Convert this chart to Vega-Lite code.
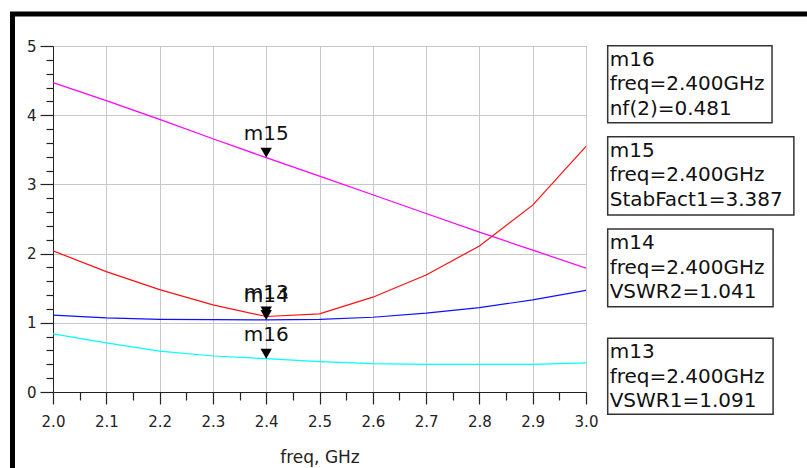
{
  "$schema": "https://vega.github.io/schema/vega-lite/v6.json",
  "width": 533,
  "height": 346,
  "autosize": {"type": "none"},
  "padding": {"left": 53, "top": 46, "right": 221, "bottom": 76},
  "background": "white",
  "config": {
    "view": {"stroke": "#404040", "strokeWidth": 1},
    "font": "DejaVu Sans"
  },
  "datasets": {
    "curves": [
      {"freq": 2.0, "value": 4.47, "series": "StabFact1"},
      {"freq": 2.1, "value": 4.21, "series": "StabFact1"},
      {"freq": 2.2, "value": 3.94, "series": "StabFact1"},
      {"freq": 2.3, "value": 3.66, "series": "StabFact1"},
      {"freq": 2.4, "value": 3.387, "series": "StabFact1"},
      {"freq": 2.5, "value": 3.12, "series": "StabFact1"},
      {"freq": 2.6, "value": 2.85, "series": "StabFact1"},
      {"freq": 2.7, "value": 2.58, "series": "StabFact1"},
      {"freq": 2.8, "value": 2.31, "series": "StabFact1"},
      {"freq": 2.9, "value": 2.05, "series": "StabFact1"},
      {"freq": 3.0, "value": 1.79, "series": "StabFact1"},
      {"freq": 2.0, "value": 2.04, "series": "VSWR1"},
      {"freq": 2.1, "value": 1.74, "series": "VSWR1"},
      {"freq": 2.2, "value": 1.48, "series": "VSWR1"},
      {"freq": 2.3, "value": 1.26, "series": "VSWR1"},
      {"freq": 2.4, "value": 1.091, "series": "VSWR1"},
      {"freq": 2.5, "value": 1.13, "series": "VSWR1"},
      {"freq": 2.6, "value": 1.37, "series": "VSWR1"},
      {"freq": 2.7, "value": 1.69, "series": "VSWR1"},
      {"freq": 2.8, "value": 2.11, "series": "VSWR1"},
      {"freq": 2.9, "value": 2.70, "series": "VSWR1"},
      {"freq": 3.0, "value": 3.55, "series": "VSWR1"},
      {"freq": 2.0, "value": 1.11, "series": "VSWR2"},
      {"freq": 2.1, "value": 1.07, "series": "VSWR2"},
      {"freq": 2.2, "value": 1.05, "series": "VSWR2"},
      {"freq": 2.3, "value": 1.045, "series": "VSWR2"},
      {"freq": 2.4, "value": 1.041, "series": "VSWR2"},
      {"freq": 2.5, "value": 1.05, "series": "VSWR2"},
      {"freq": 2.6, "value": 1.08, "series": "VSWR2"},
      {"freq": 2.7, "value": 1.14, "series": "VSWR2"},
      {"freq": 2.8, "value": 1.22, "series": "VSWR2"},
      {"freq": 2.9, "value": 1.33, "series": "VSWR2"},
      {"freq": 3.0, "value": 1.47, "series": "VSWR2"},
      {"freq": 2.0, "value": 0.84, "series": "nf(2)"},
      {"freq": 2.1, "value": 0.71, "series": "nf(2)"},
      {"freq": 2.2, "value": 0.59, "series": "nf(2)"},
      {"freq": 2.3, "value": 0.52, "series": "nf(2)"},
      {"freq": 2.4, "value": 0.481, "series": "nf(2)"},
      {"freq": 2.5, "value": 0.44, "series": "nf(2)"},
      {"freq": 2.6, "value": 0.41, "series": "nf(2)"},
      {"freq": 2.7, "value": 0.40, "series": "nf(2)"},
      {"freq": 2.8, "value": 0.40, "series": "nf(2)"},
      {"freq": 2.9, "value": 0.40, "series": "nf(2)"},
      {"freq": 3.0, "value": 0.42, "series": "nf(2)"}
    ],
    "markers": [
      {"marker": "m16", "freq": 2.4, "value": 0.481},
      {"marker": "m15", "freq": 2.4, "value": 3.387},
      {"marker": "m14", "freq": 2.4, "value": 1.041},
      {"marker": "m13", "freq": 2.4, "value": 1.091}
    ],
    "boxes": [
      {"marker": "m16", "freq": 3.0407, "freq2": 3.349, "value": 5.004, "value2": 3.892, "lines": ["m16", "freq=2.400GHz", "nf(2)=0.481"]},
      {"marker": "m15", "freq": 3.0407, "freq2": 3.390, "value": 3.689, "value2": 2.558, "lines": ["m15", "freq=2.400GHz", "StabFact1=3.387"]},
      {"marker": "m14", "freq": 3.0407, "freq2": 3.351, "value": 2.355, "value2": 1.233, "lines": ["m14", "freq=2.400GHz", "VSWR2=1.041"]},
      {"marker": "m13", "freq": 3.0407, "freq2": 3.351, "value": 0.776, "value2": -0.322, "lines": ["m13", "freq=2.400GHz", "VSWR1=1.091"]}
    ],
    "frame": [
      {"freq": 1.924, "freq2": 3.6, "value": 5.462, "value2": -2}
    ]
  },
  "layer": [
    {
      "data": {"name": "curves"},
      "mark": {"type": "line", "strokeWidth": 1.2, "clip": true},
      "encoding": {
        "x": {
          "field": "freq", "type": "quantitative",
          "scale": {"domain": [2, 3], "nice": false, "zero": false},
          "axis": {
            "title": "freq, GHz",
            "values": [2, 2.05, 2.1, 2.15, 2.2, 2.25, 2.3, 2.35, 2.4, 2.45, 2.5, 2.55, 2.6, 2.65, 2.7, 2.75, 2.8, 2.85, 2.9, 2.95, 3],
            "tickCount": 100,
            "labelExpr": "abs(datum.value*10 - round(datum.value*10)) < 0.001 ? format(datum.value, '.1f') : ''",
            "tickSize": {"condition": {"test": "abs(datum.value*10 - round(datum.value*10)) < 0.001", "value": 12}, "value": 8},
            "gridOpacity": {"condition": {"test": "abs(datum.value*10 - round(datum.value*10)) < 0.001", "value": 1}, "value": 0},
            "grid": true,
            "gridColor": "#c8c8c8",
            "gridWidth": 1,
            "domainColor": "#222222",
            "tickColor": "#222222",
            "tickWidth": 1.2,
            "labelFont": "DejaVu Sans",
            "labelFontSize": 15,
            "labelColor": "#222222",
            "labelPadding": 10,
            "labelFlush": false,
            "labelOverlap": false,
            "titleFont": "DejaVu Sans",
            "titleFontSize": 17,
            "titleFontWeight": "normal",
            "titleColor": "#222222",
            "titlePadding": 20
          }
        },
        "y": {
          "field": "value", "type": "quantitative",
          "scale": {"domain": [0, 5], "nice": false, "zero": false},
          "axis": {
            "title": null,
            "values": [0, 0.2, 0.4, 0.6, 0.8, 1, 1.2, 1.4, 1.6, 1.8, 2, 2.2, 2.4, 2.6, 2.8, 3, 3.2, 3.4, 3.6, 3.8, 4, 4.2, 4.4, 4.6, 4.8, 5],
            "tickCount": 100,
            "labelExpr": "abs(datum.value - round(datum.value)) < 0.001 ? format(datum.value, '.0f') : ''",
            "tickSize": {"condition": {"test": "abs(datum.value - round(datum.value)) < 0.001", "value": 13}, "value": 7},
            "gridOpacity": {"condition": {"test": "abs(datum.value - round(datum.value)) < 0.001", "value": 1}, "value": 0},
            "grid": true,
            "gridColor": "#c8c8c8",
            "gridWidth": 1,
            "domainColor": "#222222",
            "tickColor": "#222222",
            "tickWidth": 1.2,
            "labelFont": "DejaVu Sans",
            "labelFontSize": 15,
            "labelColor": "#222222",
            "labelPadding": 4,
            "labelFlush": false,
            "labelOverlap": false
          }
        },
        "color": {
          "field": "series", "type": "nominal",
          "scale": {"domain": ["StabFact1", "VSWR1", "VSWR2", "nf(2)"], "range": ["#ff00ff", "#ff1010", "#1010ff", "#00ffff"]},
          "legend": null
        },
        "detail": {"field": "series"}
      }
    },
    {
      "data": {"name": "markers"},
      "mark": {"type": "point", "shape": "triangle-down", "filled": true, "color": "#000000", "opacity": 1, "size": 130, "yOffset": -5},
      "encoding": {
        "x": {"field": "freq", "type": "quantitative", "scale": {"domain": [2, 3], "nice": false, "zero": false}},
        "y": {"field": "value", "type": "quantitative", "scale": {"domain": [0, 5], "nice": false, "zero": false}}
      }
    },
    {
      "data": {"name": "markers"},
      "mark": {"type": "text", "font": "DejaVu Sans", "fontSize": 20, "color": "#111111", "align": "center", "baseline": "alphabetic", "dy": -18},
      "encoding": {
        "x": {"field": "freq", "type": "quantitative", "scale": {"domain": [2, 3], "nice": false, "zero": false}},
        "y": {"field": "value", "type": "quantitative", "scale": {"domain": [0, 5], "nice": false, "zero": false}},
        "text": {"field": "marker", "type": "nominal"}
      }
    },
    {
      "data": {"name": "boxes"},
      "mark": {"type": "rect", "fill": null, "fillOpacity": 0, "stroke": "#333333", "strokeWidth": 1.5},
      "encoding": {
        "x": {"field": "freq", "type": "quantitative", "scale": {"domain": [2, 3], "nice": false, "zero": false}},
        "x2": {"field": "freq2"},
        "y": {"field": "value", "type": "quantitative", "scale": {"domain": [0, 5], "nice": false, "zero": false}},
        "y2": {"field": "value2"}
      }
    },
    {
      "data": {"name": "boxes"},
      "mark": {"type": "text", "font": "DejaVu Sans", "fontSize": 20, "color": "#111111", "align": "left", "baseline": "alphabetic", "dx": 2, "dy": 20, "lineHeight": 24.5},
      "encoding": {
        "x": {"field": "freq", "type": "quantitative", "scale": {"domain": [2, 3], "nice": false, "zero": false}},
        "y": {"field": "value", "type": "quantitative", "scale": {"domain": [0, 5], "nice": false, "zero": false}},
        "text": {"field": "lines"}
      }
    },
    {
      "data": {"name": "frame"},
      "mark": {"type": "rect", "fill": null, "fillOpacity": 0, "stroke": "#000000", "strokeWidth": 5},
      "encoding": {
        "x": {"field": "freq", "type": "quantitative", "scale": {"domain": [2, 3], "nice": false, "zero": false}},
        "x2": {"field": "freq2"},
        "y": {"field": "value", "type": "quantitative", "scale": {"domain": [0, 5], "nice": false, "zero": false}},
        "y2": {"field": "value2"}
      }
    }
  ]
}
